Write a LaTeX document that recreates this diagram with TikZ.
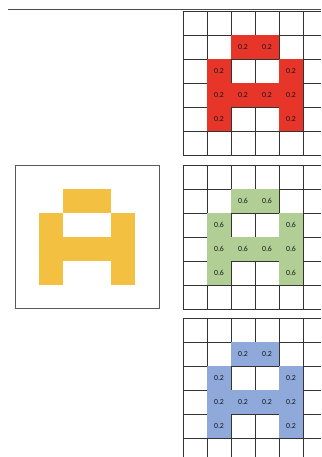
\documentclass[tikz,border=0pt]{standalone}
\usepackage{fontspec}
\setmainfont{Carlito}
\definecolor{cred}{HTML}{E8352A}
\definecolor{cgreen}{HTML}{B1CF95}
\definecolor{cblue}{HTML}{8FA9DB}
\definecolor{corange}{HTML}{F4C042}
\newcommand\Agrid[4]{%
  \foreach \k in {0,...,6} \draw[gridline] (183,{#1+24*\k}) -- (321,{#1+24*\k});
  \foreach \k in {0,...,5} \draw[gridline] ({183+24*\k},#1) -- ({183+24*\k},{#1+144});
  \foreach \c/\r in {2/1,3/1,1/2,4/2,1/3,2/3,3/3,4/3,1/4,4/4}{
    \fill[#2] ({183+24*\c-0.4},{#1+24*\r-0.4}) rectangle ++(24.8,24.8);
  }
  \foreach \c/\r in {2/1,3/1,1/2,4/2,1/3,2/3,3/3,4/3,1/4,4/4}{
    \node[val] (#4-\c-\r) at ({183+24*\c+12},{#1+24*\r+12}) {#3};
  }
}
\begin{document}
\begin{tikzpicture}[x=1pt,y=-1pt,
  gridline/.style={draw=black!80,line width=0.7pt},
  val/.style={font=\fontsize{7.8}{8}\selectfont,inner sep=0pt,text=black!90}]
\useasboundingbox (0,0) rectangle (321,457);
\clip (0,0) rectangle (321,457);
\draw[black!70,line width=0.8pt] (8,9.5) -- (321,9.5);
% left image
\draw[black!65,line width=0.8pt,fill=white] (15,165) rectangle (159,308.5);
\foreach \c/\r in {2/1,3/1,1/2,4/2,1/3,2/3,3/3,4/3,1/4,4/4}{
  \fill[corange] ({15+24*\c-0.3},{165+24*\r-0.3}) rectangle ++(24.6,24.6);
}
\Agrid{11}{cred}{0.2}{r}
\Agrid{165}{cgreen}{0.6}{g}
\Agrid{318}{cblue}{0.2}{b}
\end{tikzpicture}
\end{document}
